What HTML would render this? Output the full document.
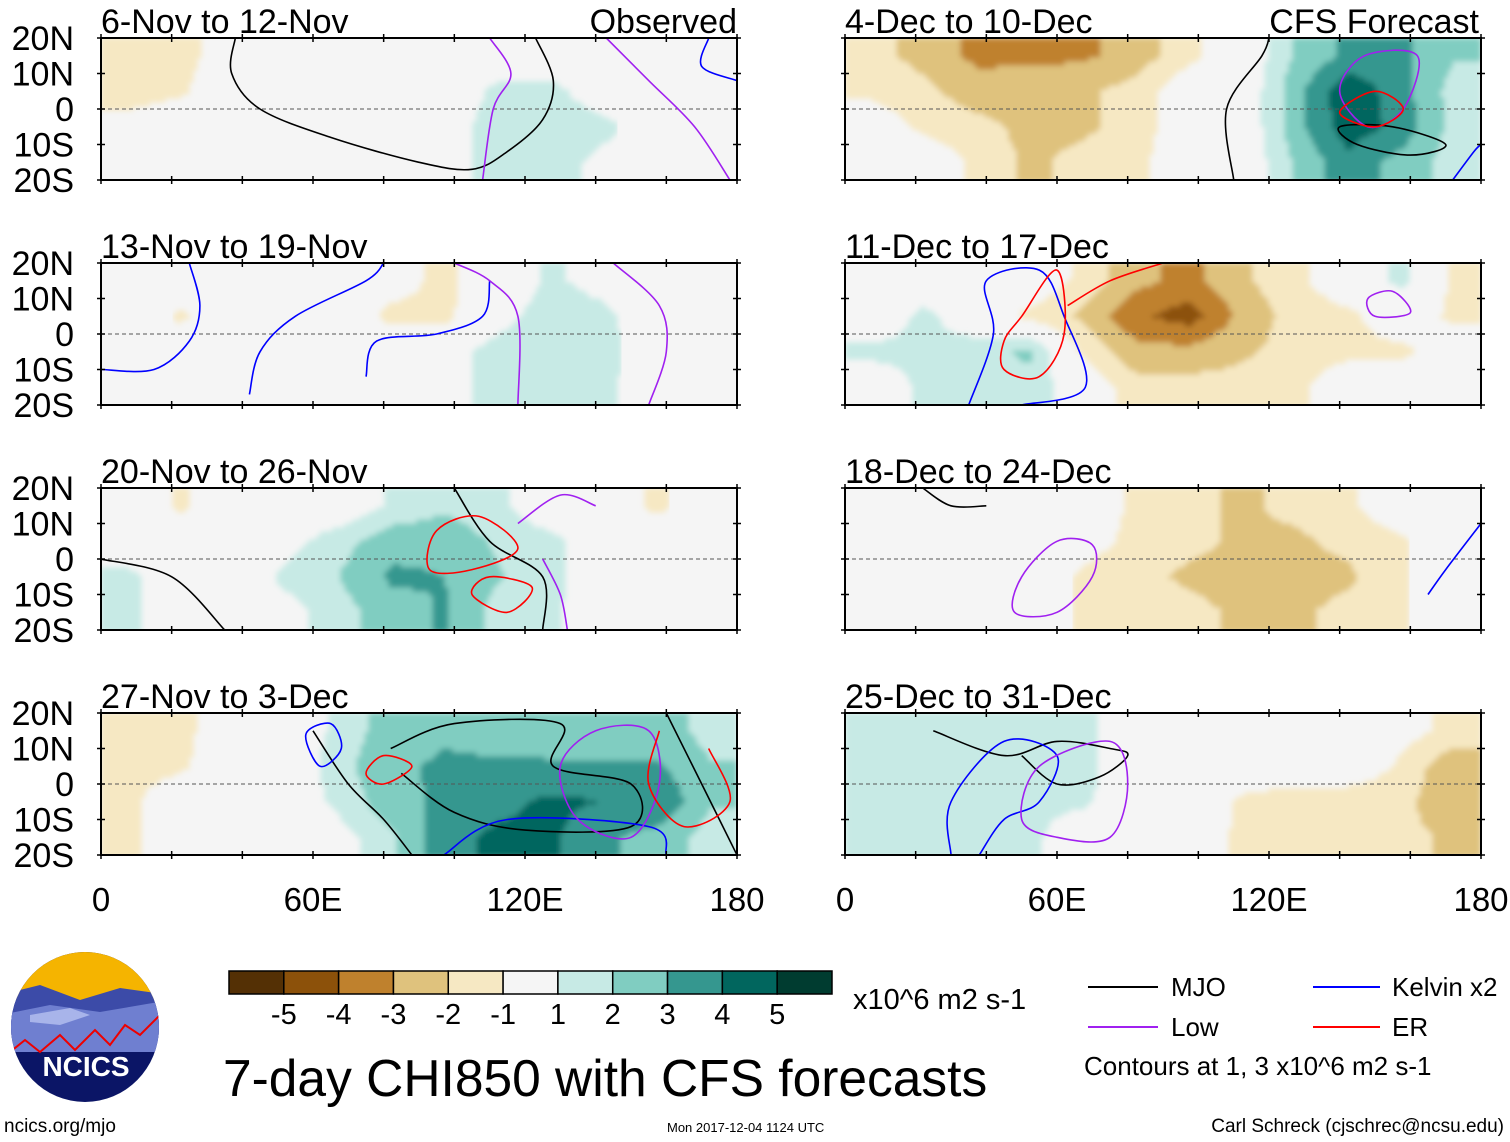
<!DOCTYPE html>
<html><head><meta charset="utf-8"><style>
html,body{margin:0;padding:0;background:#fff;}
svg{display:block;font-family:"Liberation Sans",sans-serif;}
</style></head><body>
<div style="position:relative;width:1510px;height:1142px">
<svg id="chart" width="1510" height="1142" viewBox="0 0 1510 1142" xmlns="http://www.w3.org/2000/svg" style="position:absolute;left:0;top:0">
<defs><filter id="blur" x="0" y="0" width="100%" height="100%"><feGaussianBlur stdDeviation="3"/></filter></defs>
</svg>
<script>
// ---- data ----
const panelTitles = ["6-Nov to 12-Nov","13-Nov to 19-Nov","20-Nov to 26-Nov","27-Nov to 3-Dec","4-Dec to 10-Dec","11-Dec to 17-Dec","18-Dec to 24-Dec","25-Dec to 31-Dec"];
const latTicks = [20,10,0,-10,-20];
const latLabels = ["20N","10N","0","10S","20S"];
const lonTicks = [0,60,120,180];
const lonLabels = ["0","60E","120E","180"];
const binEdges = [-5,-4,-3,-2,-1,1,2,3,4,5];
const binLabels = ["-5","-4","-3","-2","-1","1","2","3","4","5"];
const binColors = ["#543005","#8c510a","#bf812d","#dfc27d","#f6e8c3","#f5f5f5","#c7eae5","#80cdc1","#35978f","#01665e","#003c30"];
// anomaly grids: rows centred 15N,5N,5S,15S; 12 columns centred every 15 deg lon from 7.5E
const grid0 = [[-1.8,-1.3,-0.5,0,0,0,0,0,0,0,0,0],[-1.5,-1.2,0,0,0,0,0,1.3,1.4,0,0,0],[-0.5,0,0,0,0,0,0.5,1.5,1.8,1.4,0,0],[0,0,0,0,0,0,0.5,1.4,1.7,0.5,0,0]];
const grid1 = [[0,0,0,0,0,-0.5,-1.3,0,1.2,0.5,0,0],[0,-1.2,0,0,0,-1.3,-1.3,0.5,1.6,1.3,0,0],[0,0,0,0,0,0,0.5,1.5,1.8,1.5,0,0],[0,0,0,0,0,0,0.5,1.4,1.8,1.3,0,0]];
const grid2 = [[0,-1.2,0,0,0,1.2,1.8,1.2,0,0,-1.3,0],[0,0,0,0.5,1.6,2.6,2.7,1.8,1.3,0,0,0],[1.3,0,0,1.3,2,3.2,3,2.1,1.4,0,0,0],[1.3,0,0,0.5,1.6,2.6,3.1,1.6,1.2,0,0,0]];
const grid3 = [[-1.8,-1.4,0,0,1.3,2.6,2.9,2.7,2.6,2.6,2.6,1.6],[-1.5,-1.2,0,0,1.6,2.9,3.1,3.1,3.1,3.1,3.1,2.1],[-1.3,0,0,0,1.3,2.7,3.2,3.7,4.2,4,4,2.1],[-1.3,0,0,0,0.5,1.8,3.7,4.2,4.2,3.2,2.6,1.6]];
const grid4 = [[-1.7,-2.3,-3.3,-3.3,-3.2,-2.6,-1.3,0,2.1,3.2,3.2,2.1],[-1.3,-1.8,-2.5,-2.3,-2.2,-1.6,0,0,2.6,4.8,3.4,1.6],[0,-1.3,-1.7,-2.3,-2.2,-1.6,0,0,2.6,4.6,3.7,1.6],[0,0,-1.3,-2.2,-1.7,-1.3,0,0,2.1,3.7,2.6,1.6]];
const grid5 = [[0,0,0,0,-1.3,-2.7,-3.3,-2.2,-1.3,0,1.3,-1.3],[0,1.3,0,-1.3,-2.2,-3.8,-4.5,-2.7,-1.6,-1.3,0,-1.3],[1.3,1.3,1.6,2.2,-1.2,-2.7,-2.7,-2.2,-1.6,-1.3,-1.3,0],[0,1.3,1.7,1.7,0,-1.6,-1.6,-1.6,-1.3,0,0,0]];
const grid6 = [[0,0,0,0,0,-1.3,-1.7,-2.2,-1.7,-1.2,0,0],[0,0,0,0,-0.5,-1.3,-1.7,-2.2,-2.2,-1.7,-1.2,0],[0,0,0,0,-1.2,-1.7,-2.2,-2.4,-2.4,-2.2,-1.2,0],[0,0,0,0,-1.2,-1.3,-1.7,-2.2,-2.2,-1.7,-1.2,0]];
const grid7 = [[1.3,1.3,1.3,1.3,1.3,0,0,0,0,0,-0.5,-1.3],[1.3,1.3,1.4,1.7,1.4,0,0,0,0,0,-1.2,-2.8],[1.3,1.3,1.3,1.3,1.2,0,0,-1.2,-1.7,-1.7,-1.7,-2.8],[1.3,1.3,1.3,1.3,0,0,0,-1.3,-1.7,-1.7,-1.7,-2.2]];
const grids = [grid0,grid1,grid2,grid3,grid4,grid5,grid6,grid7];
// contour lines: [panel, color, [[lon,lat],...]]
const contours = [
 [0,"#000",[[38,20],[37,10],[45,0],[65,-8],[90,-15],[105,-17],[115,-12],[125,-3],[128,8],[123,20]]],
 [0,"#a020f0",[[110,20],[116,10],[111,0],[108,-20]]],
 [0,"#a020f0",[[143,20],[155,8],[168,-5],[178,-20]]],
 [0,"#0000ff",[[172,20],[170,12],[180,8]]],
 [1,"#0000ff",[[0,-10],[15,-10],[25,-2],[28,8],[25,20]]],
 [1,"#0000ff",[[42,-17],[45,-5],[55,5],[75,15],[80,20]]],
 [1,"#0000ff",[[75,-12],[78,-2],[95,0],[108,5],[110,15]]],
 [1,"#a020f0",[[100,20],[110,15],[118,5],[118,-20]]],
 [1,"#a020f0",[[145,20],[158,8],[160,-5],[155,-20]]],
 [2,"#000",[[0,0],[20,-5],[35,-20]]],
 [2,"#000",[[100,20],[110,5],[125,-5],[125,-20]]],
 [2,"#ff0000",[[93,-3],[95,8],[107,12],[118,3],[105,-3],[93,-3]]],
 [2,"#ff0000",[[105,-10],[110,-5],[122,-8],[115,-15],[105,-10]]],
 [2,"#a020f0",[[118,10],[130,18],[140,15]]],
 [2,"#a020f0",[[125,0],[130,-10],[132,-20]]],
 [3,"#000",[[60,15],[70,0],[80,-10],[88,-20]]],
 [3,"#000",[[82,10],[100,17],[130,17],[128,5],[150,0],[150,-12],[120,-13],[100,-8],[85,3]]],
 [3,"#000",[[160,20],[170,0],[180,-20]]],
 [3,"#0000ff",[[58,14],[65,17],[68,10],[62,5],[58,14]]],
 [3,"#0000ff",[[97,-20],[115,-10],[155,-12],[160,-20]]],
 [3,"#a020f0",[[130,5],[140,15],[155,15],[158,0],[150,-15],[135,-10],[130,5]]],
 [3,"#ff0000",[[75,3],[80,8],[88,5],[80,0],[75,3]]],
 [3,"#ff0000",[[158,15],[155,0],[165,-12],[178,-5],[172,10]]],
 [4,"#000",[[110,-20],[108,0],[118,15],[120,20]]],
 [4,"#000",[[140,-5],[155,-5],[170,-10],[160,-13],[145,-10],[140,-5]]],
 [4,"#a020f0",[[140,5],[147,15],[162,15],[158,0],[148,-5],[140,5]]],
 [4,"#ff0000",[[140,-1],[150,5],[158,0],[150,-5],[140,-1]]],
 [4,"#0000ff",[[172,-20],[178,-12],[180,-10]]],
 [5,"#0000ff",[[50,-20],[68,-15],[62,5],[55,18],[40,15],[42,0],[35,-20]]],
 [5,"#ff0000",[[45,-2],[50,5],[60,18],[62,0],[55,-12],[45,-10],[45,-2]]],
 [5,"#ff0000",[[63,8],[75,15],[90,20]]],
 [5,"#a020f0",[[148,10],[155,12],[160,6],[150,5],[148,10]]],
 [6,"#a020f0",[[48,-15],[50,-5],[60,5],[70,4],[70,-5],[60,-15],[48,-15]]],
 [6,"#0000ff",[[165,-10],[170,-3],[180,10]]],
 [6,"#000",[[22,20],[30,15],[40,15]]],
 [7,"#000",[[25,15],[45,8],[60,12],[75,10],[80,8],[72,2],[60,0],[50,8]]],
 [7,"#0000ff",[[30,-20],[30,-5],[45,12],[60,8],[55,-5],[45,-10],[38,-20]]],
 [7,"#a020f0",[[50,-10],[55,5],[75,12],[80,0],[75,-15],[60,-15],[50,-10]]]
];
// ---- layout ----
const NS="http://www.w3.org/2000/svg";
const svg=document.getElementById("chart");
const colX=[101,845], panelW=636, rowY=[38,263,488,713], panelH=142;
function el(t,a,p){const e=document.createElementNS(NS,t);for(const k in a)e.setAttribute(k,a[k]);(p||svg).appendChild(e);return e;}
function colorFor(v){let i=0;while(i<binEdges.length&&v>binEdges[i])i++;return binColors[i];}
function sample(gr,lon,lat){
  let fx=(lon-7.5)/15, fy=(15-lat)/10;
  fx=Math.max(0,Math.min(11,fx)); fy=Math.max(0,Math.min(3,fy));
  const i=Math.min(10,Math.floor(fx)), j=Math.min(2,Math.floor(fy)), tx=fx-i, ty=fy-j;
  const a=gr[j][i],b=gr[j][i+1],c=gr[j+1][i],d=gr[j+1][i+1];
  return a*(1-tx)*(1-ty)+b*tx*(1-ty)+c*(1-tx)*ty+d*tx*ty;
}
function smoothPath(pts){
  const closed=pts.length>2&&pts[0][0]===pts[pts.length-1][0]&&pts[0][1]===pts[pts.length-1][1];
  const P=closed?pts.slice(0,-1):pts; const n=P.length;
  const g=k=>closed?P[(k+n)%n]:P[Math.max(0,Math.min(n-1,k))];
  let d="M"+P[0][0]+","+P[0][1];
  const segs=closed?n:n-1;
  for(let k=0;k<segs;k++){const p0=g(k-1),p1=g(k),p2=g(k+1),p3=g(k+2);
    const c1=[p1[0]+(p2[0]-p0[0])/6,p1[1]+(p2[1]-p0[1])/6],c2=[p2[0]-(p3[0]-p1[0])/6,p2[1]-(p3[1]-p1[1])/6];
    d+=" C"+c1.join(",")+" "+c2.join(",")+" "+p2.join(",");}
  return d+(closed?" Z":"");
}
const CW=4, CH=4;
for(let p=0;p<8;p++){
  const c=Math.floor(p/4), r=p%4, x0=colX[c], y0=rowY[r];
  const xs=lon=>x0+lon/180*panelW, ys=lat=>y0+(20-lat)/40*panelH;
  const g=el("g",{});
  
  
  const cp=el("clipPath",{id:"cp"+p},g); el("rect",{x:x0,y:y0,width:panelW,height:panelH},cp);
  const sh=el("g",{"clip-path":"url(#cp"+p+")"},g);
  el("rect",{x:x0,y:y0,width:panelW,height:panelH,fill:"#f5f5f5"},sh);
  const bl=el("g",{filter:"url(#blur)"},sh);
  for(let py=0;py<panelH;py+=CH){for(let px=0;px<panelW;px+=CW){
    const lon=(px+CW/2)/panelW*180, lat=20-(py+CH/2)/panelH*40;
    const v=sample(grids[p],lon,lat); const col=colorFor(v);
    if(col==="#f5f5f5")continue;
    const cell=el("rect",{x:x0+px-0.5,y:y0+py-0.5,width:CW+1,height:CH+1,fill:col},bl);
    
    
  }}
  el("line",{x1:x0,x2:x0+panelW,y1:ys(0),y2:ys(0),stroke:"#555","stroke-width":1,"stroke-dasharray":"4,3"},sh);
  contours.filter(k=>k[0]===p).forEach(k=>{
    const pl=el("path",{d:smoothPath(k[2].map(q=>[+xs(q[0]).toFixed(1),+ys(q[1]).toFixed(1)])),fill:"none",stroke:k[1],"stroke-width":1.6,"stroke-linejoin":"round"},sh);
    
    
  });
  el("rect",{x:x0,y:y0,width:panelW,height:panelH,fill:"none",stroke:"#000","stroke-width":2},g);
  for(let lon=0;lon<=180;lon+=20){el("line",{x1:xs(lon),x2:xs(lon),y1:y0-4,y2:y0+4,stroke:"#000","stroke-width":1.5},g);el("line",{x1:xs(lon),x2:xs(lon),y1:y0+panelH-4,y2:y0+panelH+4,stroke:"#000","stroke-width":1.5},g);}
  latTicks.forEach(lat=>{el("line",{x1:x0-4,x2:x0+4,y1:ys(lat),y2:ys(lat),stroke:"#000","stroke-width":1.5},g);el("line",{x1:x0+panelW-4,x2:x0+panelW+4,y1:ys(lat),y2:ys(lat),stroke:"#000","stroke-width":1.5},g);});
  const t=el("text",{x:x0,y:y0-5,"font-size":34},g); t.textContent=panelTitles[p];
   
  if(c===0){latTicks.forEach((lat,i)=>{const l=el("text",{x:74,y:ys(lat)+12,"font-size":34,"text-anchor":"end"},g);l.textContent=latLabels[i];
     });}
  if(p===0){const o=el("text",{x:737,y:y0-5,"font-size":34,"text-anchor":"end"},g);o.textContent="Observed";}
  if(p===4){const o=el("text",{x:1479,y:y0-5,"font-size":34,"text-anchor":"end"},g);o.textContent="CFS Forecast";}
  if(r===3){lonTicks.forEach((lon,i)=>{const l=el("text",{x:xs(lon),y:911,"font-size":33,"text-anchor":"middle"},g);l.textContent=lonLabels[i];
     });}
}
// colorbar
const cb=el("g",{});
 
const bw=603/11;
binColors.forEach((col,i)=>el("rect",{x:229+i*bw,y:971,width:bw,height:23,fill:col,stroke:"#000","stroke-width":1.5},cb));
binLabels.forEach((lb,i)=>{const t=el("text",{x:229+(i+1)*bw,y:1024,"font-size":29,"text-anchor":"middle"},cb);t.textContent=lb;});
const u=el("text",{x:853,y:1009,"font-size":29},cb);u.textContent="x10^6 m2 s-1";
</script>
<svg width="1510" height="1142" style="position:absolute;left:0;top:0;pointer-events:none" font-family="Liberation Sans, sans-serif">
  <g>
    <clipPath id="lc"><ellipse cx="85" cy="1027" rx="74" ry="75"/></clipPath>
    <g clip-path="url(#lc)">
      <rect x="0" y="950" width="170" height="160" fill="#0b1566"/>
      <rect x="0" y="950" width="170" height="50" fill="#f5b400"/>
      <polygon points="0,995 40,985 80,1000 120,988 170,995 170,1040 0,1040" fill="#3c4ba8"/>
      <polygon points="0,1015 50,1005 100,1012 170,1000 170,1052 0,1052" fill="#6f7fd0"/>
      <polygon points="30,1015 70,1008 90,1015 60,1025 30,1022" fill="#a8b4ea"/>
      <polyline points="10,1052 25,1040 40,1052 60,1035 75,1050 95,1030 110,1045 125,1025 140,1035 160,1015" fill="none" stroke="#e00" stroke-width="2"/>
    </g>
    <text x="86" y="1076" font-size="28" font-weight="bold" fill="#fff" text-anchor="middle">NCICS</text>
  </g>
  <text x="223" y="1096" font-size="51.5">7-day CHI850 with CFS forecasts</text>
  <text x="4" y="1132" font-size="19">ncics.org/mjo</text>
  <text x="667" y="1132" font-size="13">Mon 2017-12-04 1124 UTC</text>
  <text x="1504" y="1132" font-size="19" text-anchor="end">Carl Schreck (cjschrec@ncsu.edu)</text>
  <g font-size="26">
    <line x1="1088" x2="1158" y1="987" y2="987" stroke="#000" stroke-width="2"/><text x="1171" y="996">MJO</text>
    <line x1="1313" x2="1380" y1="987" y2="987" stroke="#0000ff" stroke-width="2"/><text x="1392" y="996">Kelvin x2</text>
    <line x1="1088" x2="1158" y1="1027" y2="1027" stroke="#a020f0" stroke-width="2"/><text x="1171" y="1036">Low</text>
    <line x1="1313" x2="1380" y1="1027" y2="1027" stroke="#ff0000" stroke-width="2"/><text x="1392" y="1036">ER</text>
    <text x="1084" y="1075" font-size="26">Contours at 1, 3 x10^6 m2 s-1</text>
  </g>
</svg>
</div>
</body></html>
